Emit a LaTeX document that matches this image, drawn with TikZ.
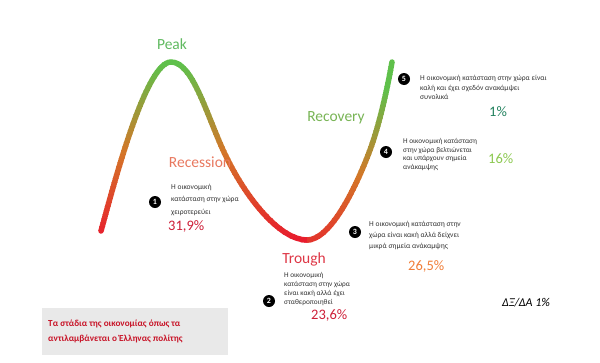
\documentclass[tikz,border=0pt]{standalone}
\usepackage{fontspec}
\setmainfont{Carlito}
\definecolor{curvered}{RGB}{232,28,45}
\definecolor{curveorange}{RGB}{212,118,40}
\definecolor{curvegreen}{RGB}{95,192,75}
\definecolor{peakgreen}{RGB}{95,185,95}
\definecolor{recessionorange}{RGB}{232,120,95}
\definecolor{recoverygreen}{RGB}{120,180,85}
\definecolor{troughred}{RGB}{222,55,70}
\definecolor{sharered}{RGB}{205,30,55}
\definecolor{shareorange}{RGB}{240,125,55}
\definecolor{sharelight}{RGB}{140,200,80}
\definecolor{shareteal}{RGB}{35,130,95}
\definecolor{boxgrey}{RGB}{233,233,233}
\definecolor{boxred}{RGB}{200,20,40}
\tikzset{
  stepnum/.style={circle,fill=black,text=white,inner sep=0pt,minimum size=12pt,
    font=\fontsize{8}{8}\selectfont\bfseries},
  stepdesc/.style={anchor=north west,align=left,inner sep=0pt,text=black!80},
  share/.style={anchor=west,inner sep=0pt,font=\fontsize{14.5}{14.5}\selectfont},
  phase/.style={inner sep=0pt,font=\fontsize{15.5}{15.5}\selectfont},
}
\newcommand\wavepath{(101,231) .. controls (115,180) and (146,62) .. (171,62)
  .. controls (192,62) and (205,110) .. (223,150)
  .. controls (245,198) and (280,240) .. (307,240)
  .. controls (330,240) and (355,190) .. (370,150)
  .. controls (380,123) and (388,85) .. (392,62)}
\begin{document}
\begin{tikzpicture}[x=1pt,y=-1pt]
  \useasboundingbox (0,0) rectangle (600,362);
  % wave, coloured by height (right half a little greener)
  \foreach \xl/\xr/\shift in {0/307/0,307/600/14} {
    \foreach \k in {0,...,47} {
      \pgfmathsetmacro\ya{54+4*\k}
      \pgfmathsetmacro\yb{58.6+4*\k}
      \pgfmathsetmacro\pct{max(0,min(100,(238-\ya)/1.75+\shift))}
      \pgfmathsetmacro\pa{min(100,2*\pct)}
      \pgfmathsetmacro\pb{max(0,2*\pct-100)}
      \colorlet{bandlow}{curveorange!\pa!curvered}
      \colorlet{bandcol}{curvegreen!\pb!bandlow}
      \begin{scope}
        \clip (\xl,\ya) rectangle (\xr,\yb);
        \draw[bandcol,line width=5.5pt,line cap=round] \wavepath;
      \end{scope}
    }
  }
  % phase labels
  \node[phase,text=peakgreen] (peak) at (172,44) {Peak};
  \node[phase,text=recessionorange] (recession) at (200,162) {Recession};
  \node[phase,text=recoverygreen] (recovery) at (336,118) {Recovery};
  \node[phase,text=troughred] (trough) at (304,259) {Trough};
  % step 1
  \node[stepnum] (n1) at (155,202) {1};
  \node[stepdesc,font=\fontsize{7.5}{12.5}\selectfont] (d1) at (171,184)
    {Η οικονομική\\κατάσταση στην χώρα\\χειροτερεύει};
  \node[share,text=sharered] (s1) at (168,226) {31,9\%};
  % step 2
  \node[stepnum] (n2) at (269,301) {2};
  \node[stepdesc,font=\fontsize{7.3}{9}\selectfont] (d2) at (284,272)
    {Η οικονομική\\κατάσταση στην χώρα\\είναι κακή αλλά έχει\\σταθεροποιηθεί};
  \node[share,text=sharered] (s2) at (311,315) {23,6\%};
  % step 3
  \node[stepnum] (n3) at (355,232) {3};
  \node[stepdesc,font=\fontsize{7.5}{11}\selectfont] (d3) at (369,221)
    {Η οικονομική κατάσταση στην\\χώρα είναι κακή αλλά δείχνει\\μικρά σημεία ανάκαμψης};
  \node[share,text=shareorange] (s3) at (408,266) {26,5\%};
  % step 4
  \node[stepnum] (n4) at (386,152) {4};
  \node[stepdesc,font=\fontsize{7.3}{8.7}\selectfont] (d4) at (403,138)
    {Η οικονομική κατάσταση\\στην χώρα βελτιώνεται\\και υπάρχουν σημεία\\ανάκαμψης};
  \node[share,text=sharelight] (s4) at (488,159) {16\%};
  % step 5
  \node[stepnum] (n5) at (404,79) {5};
  \node[stepdesc,font=\fontsize{7.5}{9.7}\selectfont] (d5) at (420,75)
    {Η οικονομική κατάσταση στην χώρα είναι\\καλή και έχει σχεδόν ανακάμψει\\συνολικά};
  \node[share,text=shareteal] (s5) at (489,112) {1\%};
  % caption box
  \fill[boxgrey] (42,308) rectangle (228,355);
  \node[anchor=west,align=left,inner sep=0pt,text=boxred,
    font=\fontsize{9.2}{15}\selectfont\bfseries] (caption) at (48,331.5)
    {Τα στάδια της οικονομίας όπως τα\\αντιλαμβάνεται ο Έλληνας πολίτης};
  \node[inner sep=0pt,font=\fontsize{12}{12}\selectfont\itshape] (ratio) at (526,303) {ΔΞ/ΔΑ 1\%};
\end{tikzpicture}
\end{document}
